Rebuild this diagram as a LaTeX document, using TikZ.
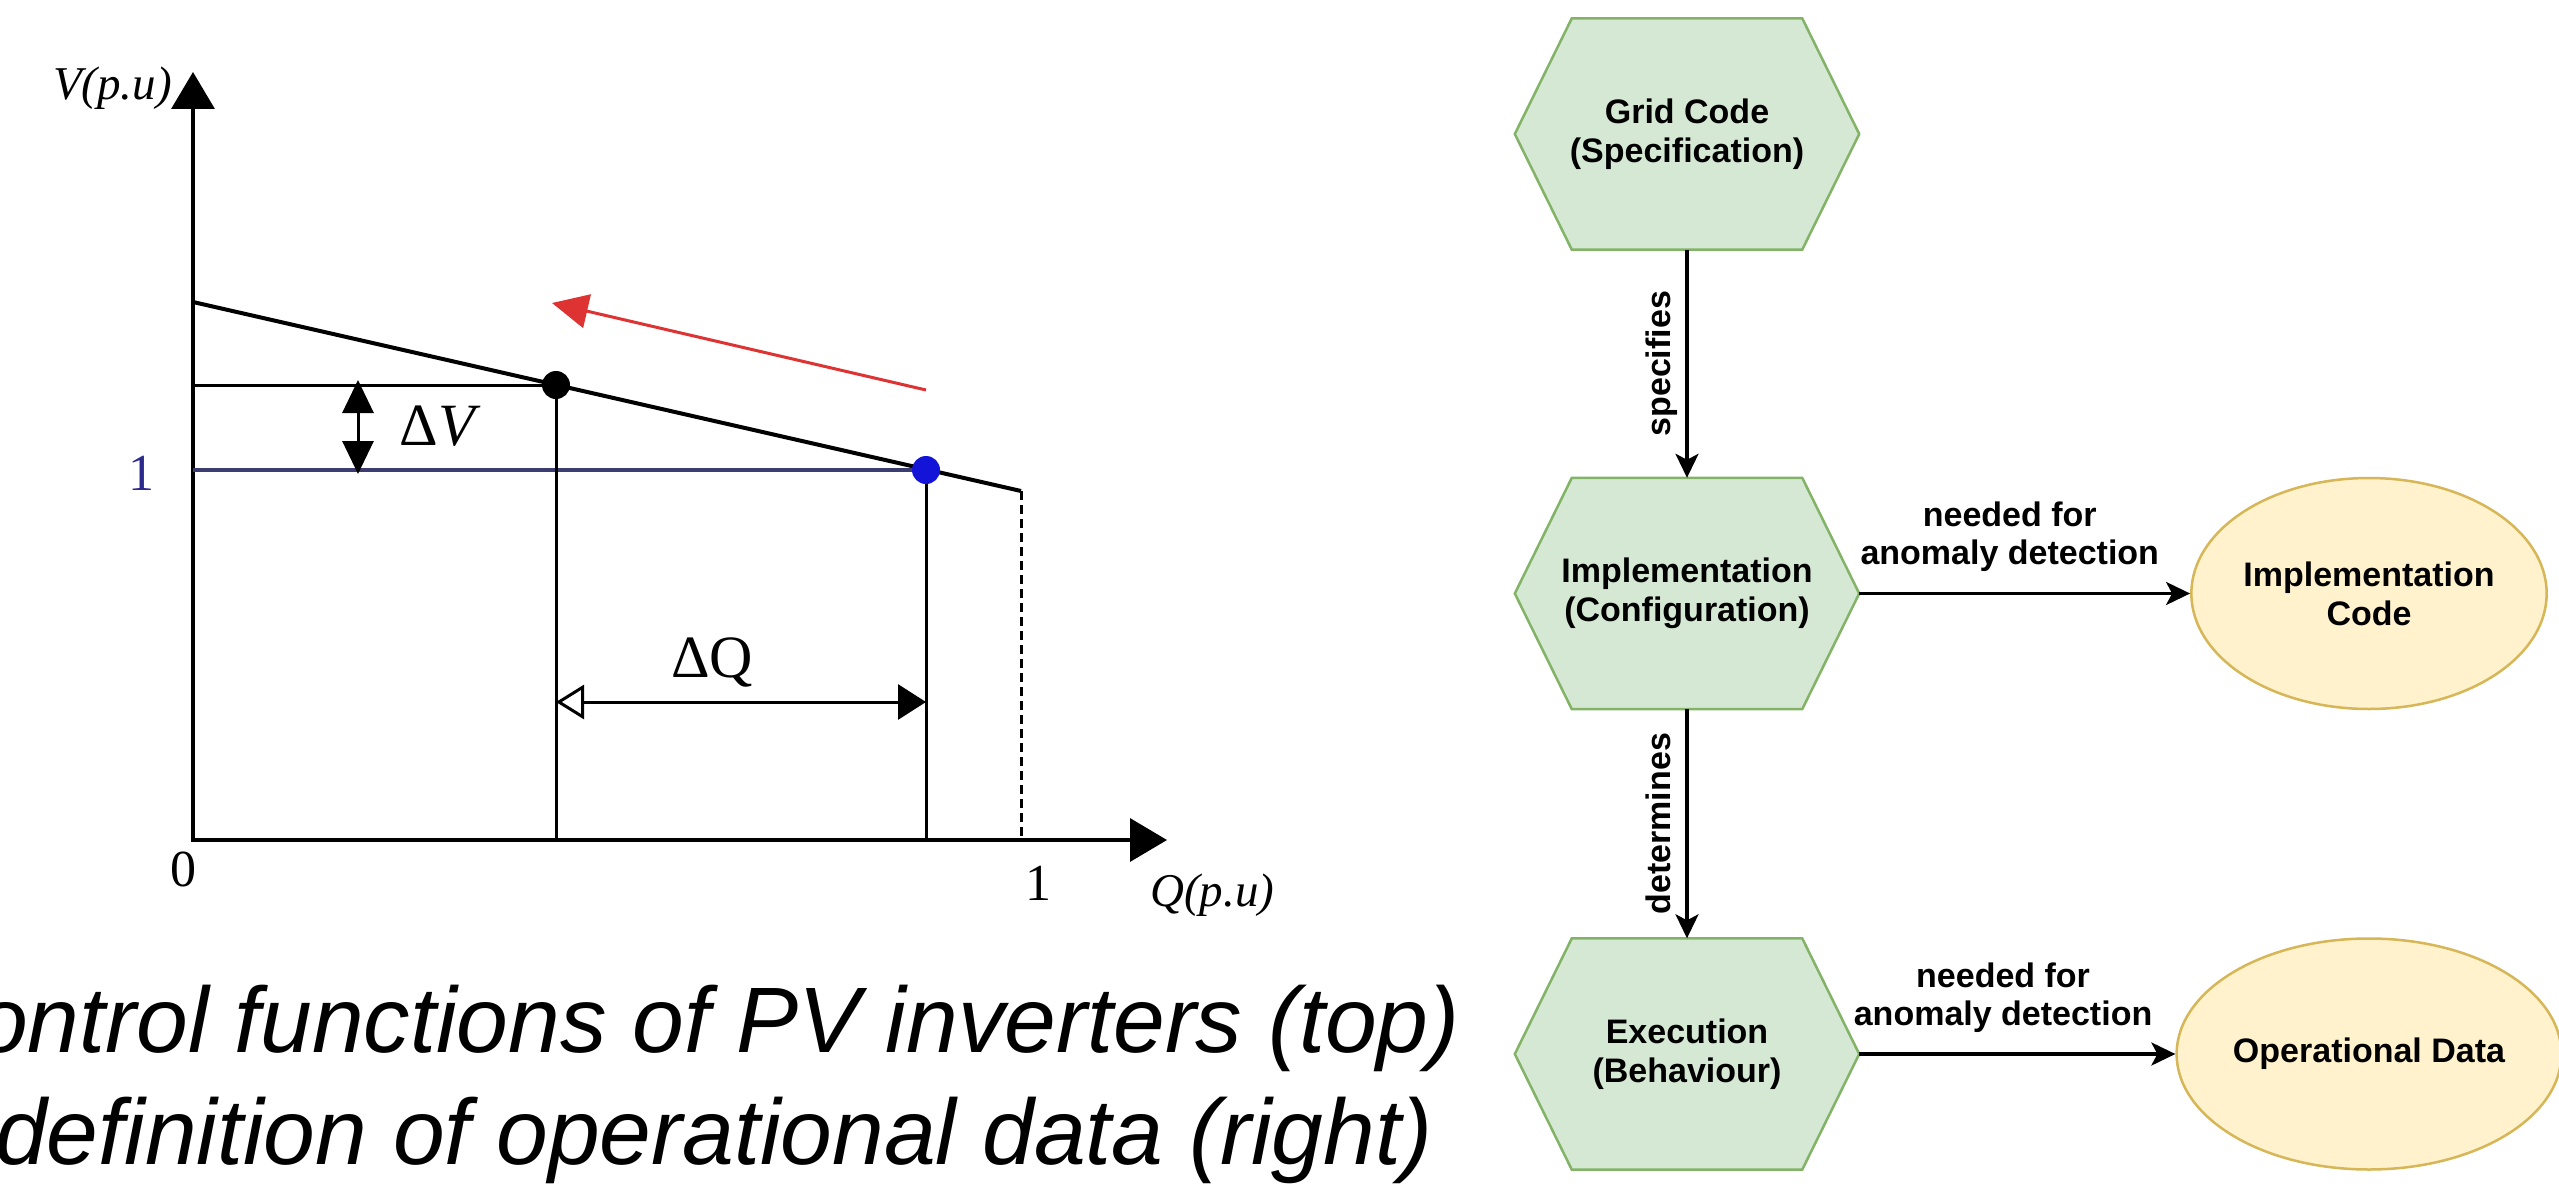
\documentclass[tikz,border=0pt]{standalone}
\usepackage{fontspec}
\setmainfont{Liberation Sans}
\newfontfamily\serifchart{Liberation Serif}
\usetikzlibrary{arrows.meta,shapes.geometric}
\pgfdeclarelayer{background}
\pgfsetlayers{background,main}
\definecolor{hexfill}{HTML}{D5E8D4}
\definecolor{hexline}{HTML}{82B366}
\definecolor{ellfill}{HTML}{FFF2CC}
\definecolor{ellline}{HTML}{D6B656}
\definecolor{bluepoint}{HTML}{1414D8}
\definecolor{blueline}{HTML}{3C3C70}
\definecolor{bluelabel}{HTML}{2A2A8C}
\definecolor{redarrow}{HTML}{DD3333}
\tikzset{
  bigtip/.tip={Triangle[length=37pt,width=43pt]},
  smalltip/.tip={Triangle[length=33pt,width=31pt]},
  flowtip/.tip={Stealth[length=24pt,width=23pt,inset=6pt]}
}
\begin{document}
\begin{tikzpicture}[x=1pt,y=-1pt,
  hexnode/.style={rectangle, minimum width=344pt, minimum height=231pt, inner sep=0pt, align=center,
    font=\fontsize{34}{39}\selectfont\bfseries},
  hexborder/.style={draw=hexline, fill=hexfill, line width=2.5pt},
  ellnode/.style={ellipse, minimum width=334pt, minimum height=231pt, inner sep=0pt, align=center,
    fill=ellfill, draw=ellline, line width=2.5pt, font=\fontsize{34}{39}\selectfont\bfseries},
  flow/.style={line width=3.3pt, -flowtip},
  vlabel/.style={font=\fontsize{34}{38}\selectfont\bfseries, rotate=90, anchor=south,
    inner xsep=0pt, inner ysep=8pt, text height=25pt, text depth=7pt},
  hlabel/.style={font=\fontsize{34}{38}\selectfont\bfseries, align=center, anchor=south,
    inner xsep=0pt, inner ysep=20pt},
  axisline/.style={line width=3.5pt},
  chartline/.style={line width=3pt},
  axlabel/.style={font=\serifchart\itshape\fontsize{47}{47}\selectfont, inner sep=0pt},
  numlabel/.style={font=\serifchart\fontsize{52}{52}\selectfont, inner sep=0pt},
  deltalabel/.style={font=\serifchart\fontsize{60}{60}\selectfont, inner sep=0pt},
  caption/.style={font=\itshape\fontsize{93}{93}\selectfont, inner sep=0pt, anchor=base west}
]
\useasboundingbox (0,0) rectangle (2559,1188);

% ---------------- left: droop chart ----------------
\coordinate (origin) at (193,840);
\coordinate (ytip) at (193,72);
\coordinate (xtip) at (1167,840);
\coordinate (vstart) at (193,302);
\coordinate (vend) at (1021,491);
\coordinate (pblack) at (556,385);
\coordinate (pblue) at (926,470);

\draw[axisline, bigtip-bigtip] (ytip) -- (origin) -- (xtip);
\draw[line width=4pt] (vstart) -- (vend);
\draw[chartline, dash pattern=on 9pt off 5pt] (vend) -- (1021,840);
\draw[chartline] (193,385) -- (pblack);
\draw[blueline, line width=3.5pt] (193,470) -- (pblue);
\draw[chartline] (pblack) -- (556,840);
\draw[chartline] (pblue) -- (926,840);
\fill (pblack) circle[radius=14pt];
\fill[bluepoint] (pblue) circle[radius=14pt];

\draw[chartline, smalltip-smalltip] (358,380) -- (358,474);
\node[deltalabel, anchor=base] (dv) at (440,445) {Δ\textit{V}};
\draw[chartline, {Triangle[open,length=28pt,width=34pt]}-{Triangle[length=28pt,width=35pt]}] (556,702) -- (926,702);
\node[deltalabel, anchor=base] (dq) at (712,677) {ΔQ};

\draw[redarrow, line width=3pt, -{Triangle[length=36pt,width=34pt]}] (926,390) -- (552,303);

\node[axlabel, anchor=base east] (vlab) at (172,100) {V(p.u)};
\node[axlabel, anchor=base west] (qlab) at (1150,906) {Q(p.u)};
\node[numlabel, anchor=base, text=bluelabel] (one) at (141,490) {1};
\node[numlabel, anchor=base] (zero) at (183,886) {0};
\node[numlabel, anchor=base] (onex) at (1038,900) {1};

\node[caption] (cap1) at (-24,1052) {ontrol functions of PV inverters (top)};
\node[caption] (cap2) at (-5,1164) {definition of operational data (right)};

% ---------------- right: flow diagram ----------------
\node[hexnode] (h1) at (1687,134) {Grid Code\\(Specification)};
\node[hexnode] (h2) at (1687,593.5) {Implementation\\(Configuration)};
\node[hexnode] (h3) at (1687,1054) {Execution\\(Behaviour)};
\node[ellnode] (c1) at (2369,593.5) {Implementation\\Code};
\node[ellnode] (c2) at (2369,1054) {Operational Data};

\begin{pgfonlayer}{background}
\fill[white] (0,0) rectangle (2559,1188);
\foreach \n in {h1,h2,h3}
  \draw[hexborder] (\n.west) -- ([xshift=57pt]\n.north west) -- ([xshift=-57pt]\n.north east)
    -- (\n.east) -- ([xshift=-57pt]\n.south east) -- ([xshift=57pt]\n.south west) -- cycle;
\end{pgfonlayer}

\draw[flow] (h1.south) -- (h2.north) node[pos=0.5, vlabel] (l1) {specifies};
\draw[flow] (h2.south) -- (h3.north) node[pos=0.5, vlabel] (l2) {determines};
\draw[flow] (h2.east) -- (c1.west) node[pos=0.455, hlabel] (l3) {needed for\\anomaly detection};
\draw[flow] (h3.east) -- (c2.west) node[pos=0.455, hlabel] (l4) {needed for\\anomaly detection};
\end{tikzpicture}
\end{document}
